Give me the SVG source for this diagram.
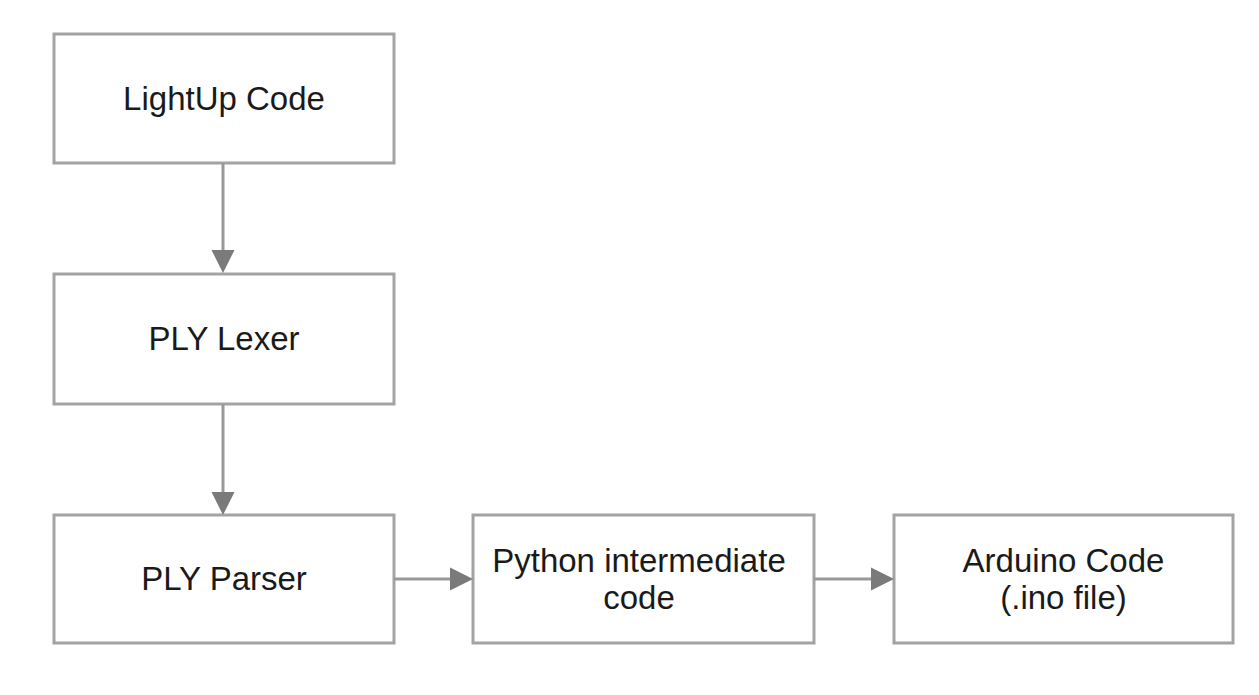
<svg xmlns="http://www.w3.org/2000/svg" width="1259" height="695" viewBox="0 0 1259 695">
<style>
.box{fill:#ffffff;stroke:#a3a3a3;stroke-width:3}
.lbl{font-family:"Liberation Sans",Arial,sans-serif;font-size:33px;fill:#1a1a1a;text-anchor:middle}
.conn{stroke:#999999;stroke-width:3;fill:none}
.head{fill:#7a7a7a}
</style>
<rect width="1259" height="695" fill="#ffffff"/>
<g id="n-lightup"><rect class="box" x="54" y="34" width="340" height="129"/><text class="lbl" x="224" y="110">LightUp Code</text></g>
<g id="n-lexer"><rect class="box" x="54" y="274" width="340" height="130"/><text class="lbl" x="224" y="350">PLY Lexer</text></g>
<g id="n-parser"><rect class="box" x="54" y="515" width="340" height="128"/><text class="lbl" x="224" y="590">PLY Parser</text></g>
<g id="n-python"><rect class="box" x="473" y="515" width="341" height="128"/><text class="lbl" x="639" y="572">Python intermediate</text><text class="lbl" x="639" y="609">code</text></g>
<g id="n-arduino"><rect class="box" x="894" y="515" width="339" height="128"/><text class="lbl" x="1063.5" y="572">Arduino Code</text><text class="lbl" x="1063.5" y="609">(.ino file)</text></g>
<g id="connectors">
<line class="conn" x1="223" y1="163" x2="223" y2="252"/><polygon class="head" points="211.5,250 234.5,250 223,273"/>
<line class="conn" x1="223" y1="404" x2="223" y2="494"/><polygon class="head" points="211.5,492 234.5,492 223,515"/>
<line class="conn" x1="394" y1="579" x2="452" y2="579"/><polygon class="head" points="450,567.5 450,590.5 473,579"/>
<line class="conn" x1="814" y1="579" x2="873" y2="579"/><polygon class="head" points="871,567.5 871,590.5 894,579"/>
</g>
</svg>
